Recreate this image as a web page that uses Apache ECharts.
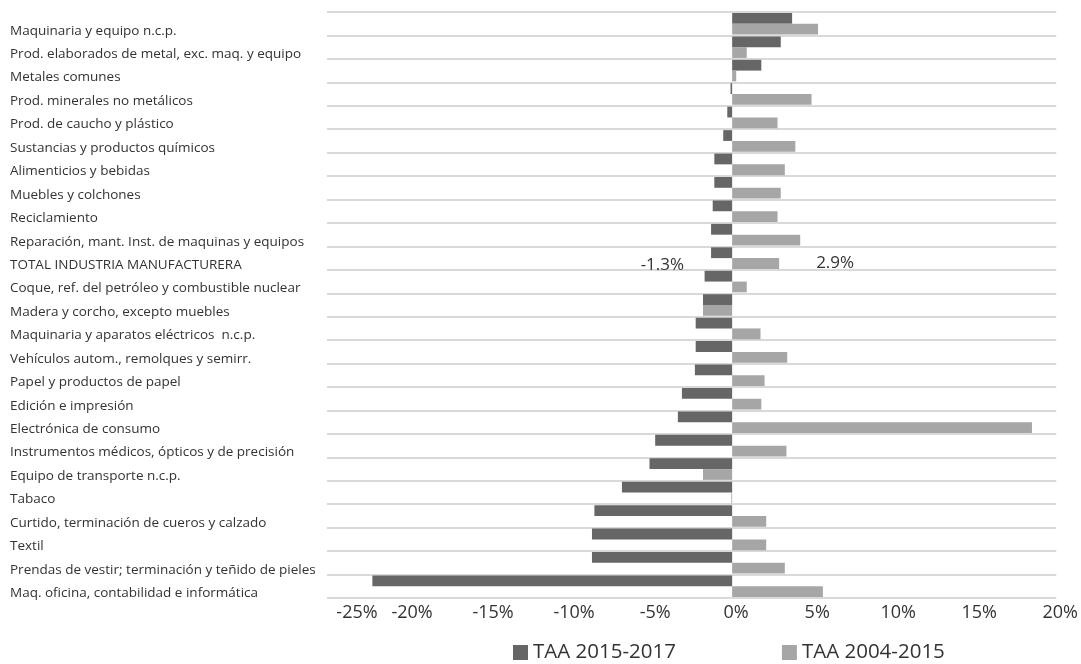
<!DOCTYPE html>
<html>
<head>
<meta charset="utf-8">
<script src="https://cdn.jsdelivr.net/npm/echarts@6/dist/echarts.min.js"></script>
<style>
  html, body { margin: 0; padding: 0; background: #ffffff; }
  #chart { width: 1081px; height: 664px; }
</style>
</head>
<body>
<div id="chart"></div>
<script>
// Industrial branches, listed top to bottom
const categories = [
  'Maquinaria y equipo n.c.p.',
  'Prod. elaborados de metal, exc. maq. y equipo',
  'Metales comunes',
  'Prod. minerales no metálicos',
  'Prod. de caucho y plástico',
  'Sustancias y productos químicos',
  'Alimenticios y bebidas',
  'Muebles y colchones',
  'Reciclamiento',
  'Reparación, mant. Inst. de maquinas y equipos',
  'TOTAL INDUSTRIA MANUFACTURERA',
  'Coque, ref. del petróleo y combustible nuclear',
  'Madera y corcho, excepto muebles',
  'Maquinaria y aparatos eléctricos  n.c.p.',
  'Vehículos autom., remolques y semirr.',
  'Papel y productos de papel',
  'Edición e impresión',
  'Electrónica de consumo',
  'Instrumentos médicos, ópticos y de precisión',
  'Equipo de transporte n.c.p.',
  'Tabaco',
  'Curtido, terminación de cueros y calzado',
  'Textil',
  'Prendas de vestir; terminación y teñido de pieles',
  'Maq. oficina, contabilidad e informática'
];

// Annual growth rate (%), 2015-2017
const taa20152017 = [
  3.7, 3.0, 1.8, -0.1, -0.3, -0.55, -1.1, -1.1, -1.2, -1.3,
  -1.3, -1.7, -1.8, -2.25, -2.25, -2.3, -3.1, -3.35, -4.75, -5.1,
  -6.8, -8.5, -8.65, -8.65, -22.2
];

// Annual growth rate (%), 2004-2015
const taa20042015 = [
  5.3, 0.9, 0.25, 4.9, 2.8, 3.9, 3.25, 3.0, 2.8, 4.2,
  2.9, 0.9, -1.8, 1.75, 3.4, 2.0, 1.8, 18.5, 3.35, -1.8,
  -0.05, 2.1, 2.1, 3.25, 5.6
];

const seriesNames = ['TAA 2015-2017', 'TAA 2004-2015'];
const totalRow = categories.indexOf('TOTAL INDUSTRIA MANUFACTURERA');

const DARK = '#666666';
const LIGHT = '#a6a6a6';
const TEXT = '#333333';
const FONT = 'Open Sans';

// Value label shown only on the manufacturing total row
function withTotalLabel(values, position, distance, offset) {
  return values.map((v, i) => {
    if (i !== totalRow) return v;
    return {
      value: v,
      label: {
        show: true,
        position: position,
        distance: distance,
        offset: offset,
        formatter: (p) => p.value.toFixed(1) + '%',
        color: TEXT,
        fontFamily: FONT,
        fontSize: 17
      }
    };
  });
}

const chart = echarts.init(document.getElementById('chart'), null, { renderer: 'canvas' });

chart.setOption({
  backgroundColor: '#ffffff',
  animation: false,
  grid: { left: 327, right: 23, top: 12, bottom: 66, containLabel: false },
  legend: {
    data: seriesNames,
    left: 508,
    top: 637,
    itemWidth: 15,
    itemHeight: 15,
    itemGap: 106,
    icon: 'rect',
    textStyle: { color: TEXT, fontFamily: FONT, fontSize: 20.5 }
  },
  xAxis: {
    type: 'value',
    min: -25,
    max: 20,
    interval: 5,
    axisLine: { show: false },
    axisTick: { show: false },
    splitLine: { show: false },
    axisLabel: {
      formatter: (v) => (v === -25 ? '{first|' + v + '%}' : '{tick|' + v + '%}'),
      color: TEXT,
      fontFamily: FONT,
      fontSize: 18,
      margin: 6,
      rich: {
        tick: { fontFamily: FONT, fontSize: 18, color: TEXT, padding: [0, 0, 0, 8] },
        first: { fontFamily: FONT, fontSize: 18, color: TEXT, padding: [0, 0, 0, 60] }
      }
    }
  },
  yAxis: {
    type: 'category',
    data: categories,
    inverse: true,
    axisLine: { show: false },
    axisTick: { show: false },
    splitLine: { show: true, lineStyle: { color: '#d9d9d9', width: 2 } },
    axisLabel: {
      interval: 0,
      align: 'left',
      verticalAlign: 'top',
      lineHeight: 14,
      margin: 317,
      color: TEXT,
      fontFamily: FONT,
      fontSize: 13.5
    }
  },
  series: [
    {
      name: seriesNames[0],
      type: 'bar',
      data: withTotalLabel(taa20152017, 'left', 27, [0, 12]),
      itemStyle: { color: DARK },
      barGap: '0%',
      barCategoryGap: '8%'
    },
    {
      name: seriesNames[1],
      type: 'bar',
      data: withTotalLabel(taa20042015, 'right', 37, [0, 0]),
      itemStyle: { color: LIGHT },
      barGap: '0%',
      barCategoryGap: '8%'
    }
  ]
});
</script>
</body>
</html>
